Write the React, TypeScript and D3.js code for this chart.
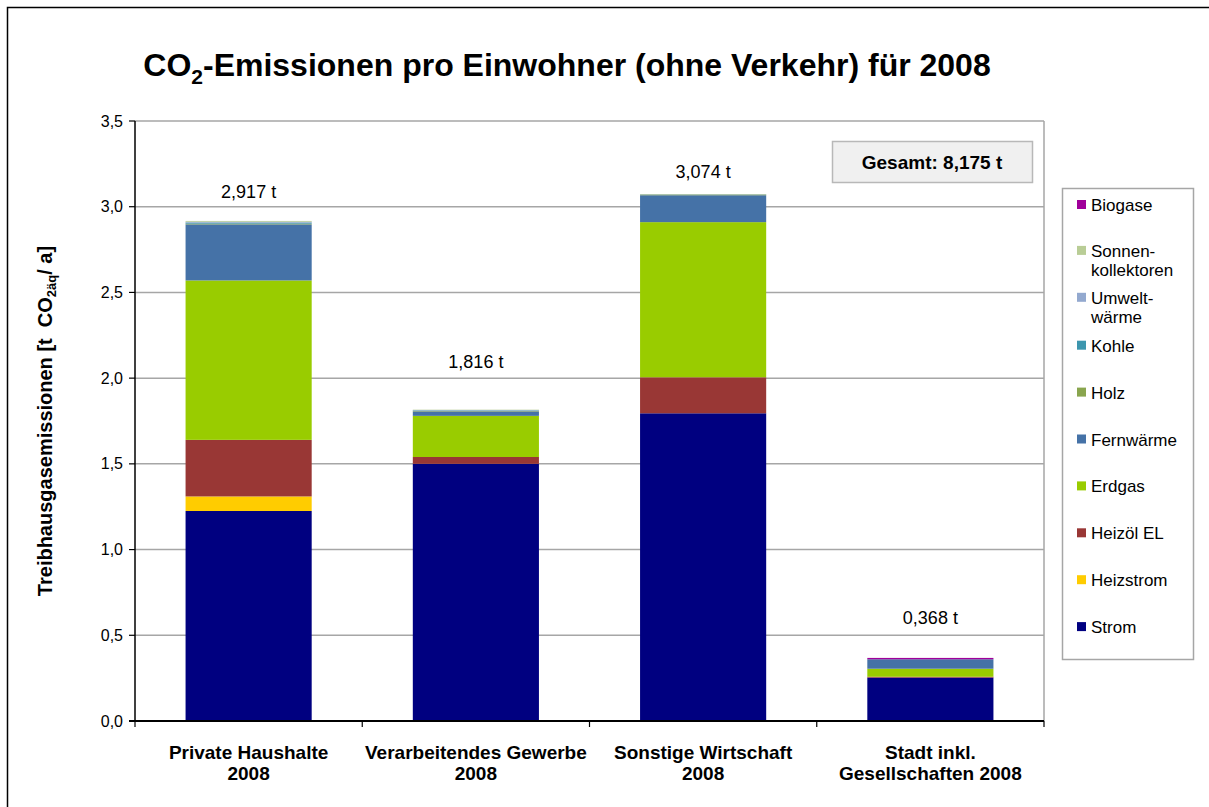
import React from "react";
import * as d3 from "d3";

const categories = [
  ["Private Haushalte", "2008"],
  ["Verarbeitendes Gewerbe", "2008"],
  ["Sonstige Wirtschaft", "2008"],
  ["Stadt inkl.", "Gesellschaften 2008"],
];
const seriesNames = [
  "Strom",
  "Heizstrom",
  "Heizöl EL",
  "Erdgas",
  "Fernwärme",
  "Holz",
  "Kohle",
  "Umweltwärme",
  "Sonnenkollektoren",
  "Biogase",
];
const legendLabels = [
  ["Biogase"],
  ["Sonnen-", "kollektoren"],
  ["Umwelt-", "wärme"],
  ["Kohle"],
  ["Holz"],
  ["Fernwärme"],
  ["Erdgas"],
  ["Heizöl EL"],
  ["Heizstrom"],
  ["Strom"],
];
const seriesColors = [
  "#000080",
  "#FFCC00",
  "#993735",
  "#99CC00",
  "#4572A7",
  "#89A54E",
  "#3D96AE",
  "#93A9CF",
  "#B9CD96",
  "#A0009A",
];
// values per series, per category
const strom = [1.225, 1.5, 1.795, 0.253];
const heizstrom = [0.085, 0, 0, 0];
const heizoel = [0.33, 0.04, 0.21, 0.005];
const erdgas = [0.93, 0.24, 0.905, 0.047];
const fernwaerme = [0.327, 0.026, 0.157, 0.055];
const holz = [0.004, 0.003, 0.004, 0];
const kohle = [0.006, 0.003, 0.001, 0];
const umweltwaerme = [0.005, 0.002, 0.001, 0];
const sonnenkollektoren = [0.005, 0.002, 0.001, 0];
const biogase = [0, 0, 0, 0.008];
const totalLabels = ["2,917 t", "1,816 t", "3,074 t", "0,368 t"];
const yTicks = [0, 0.5, 1, 1.5, 2, 2.5, 3, 3.5];
const gesamtLabel = "Gesamt: 8,175 t";

const seriesValues = [
  strom,
  heizstrom,
  heizoel,
  erdgas,
  fernwaerme,
  holz,
  kohle,
  umweltwaerme,
  sonnenkollektoren,
  biogase,
];

export default function App() {
  const W = 1209;
  const H = 807;
  const left = 135;
  const right = 1044;
  const top = 121;
  const bottom = 721;
  const font = "'Liberation Sans', Arial, sans-serif";

  const x = d3
    .scaleBand<number>()
    .domain(categories.map((_, i) => i))
    .range([left, right])
    .paddingInner(0.445)
    .paddingOuter(0.2225);
  const y = d3.scaleLinear().domain([0, 3.5]).range([bottom, top]);

  const rows = categories.map((_, i) => {
    const r: Record<string, number> = {};
    seriesNames.forEach((s, k) => (r[s] = seriesValues[k][i]));
    return r;
  });
  const stacked = d3.stack<Record<string, number>>().keys(seriesNames)(rows);
  const tops = categories.map((_, i) => y(stacked[stacked.length - 1][i][1]));
  const labelGap = [23, 42, 16, 34];

  const step = (right - left) / categories.length;

  return (
    <svg
      width={W}
      height={H}
      style={{ position: "absolute", left: 0, top: 0, fontFamily: font }}
    >
      <rect x={0} y={0} width={W} height={H} fill="#fff" />
      <rect x={7.5} y={7.5} width={W + 10} height={H + 10} fill="none" stroke="#000" strokeWidth={1.5} />
      <text x={567} y={76} textAnchor="middle" fontSize={32} fontWeight="bold" fill="#000">
        CO<tspan fontSize={21} dy={8}>2</tspan>
        <tspan dy={-8}>-Emissionen pro Einwohner (ohne Verkehr) für 2008</tspan>
      </text>

      {/* gridlines */}
      {yTicks.map((t) => (
        <line key={t} x1={left} x2={right} y1={y(t)} y2={y(t)} stroke="#a6a6a6" strokeWidth={1.5} />
      ))}
      <line x1={right} x2={right} y1={top} y2={bottom} stroke="#a6a6a6" strokeWidth={1.5} />

      {/* bars */}
      {stacked.map((layer, k) => (
        <g key={seriesNames[k]} fill={seriesColors[k]}>
          {layer.map((d, i) => {
            const h = y(d[0]) - y(d[1]);
            if (h <= 0) return null;
            return <rect key={i} x={x(i)!} y={y(d[1])} width={x.bandwidth()} height={h} />;
          })}
        </g>
      ))}

      {/* value labels */}
      {totalLabels.map((l, i) => (
        <text key={l} x={x(i)! + x.bandwidth() / 2} y={tops[i] - labelGap[i]} textAnchor="middle" fontSize={18} fill="#000">
          {l}
        </text>
      ))}

      {/* axes */}
      <line x1={left} x2={left} y1={top} y2={bottom} stroke="#000" strokeWidth={1.5} />
      <line x1={left - 6} x2={right} y1={bottom} y2={bottom} stroke="#000" strokeWidth={2} />
      {yTicks.map((t) => (
        <g key={t}>
          <line x1={left - 6} x2={left} y1={y(t)} y2={y(t)} stroke="#000" strokeWidth={1.2} />
          <text x={left - 12} y={y(t) + 5.5} textAnchor="end" fontSize={16} fill="#000">
            {d3.format(".1f")(t).replace(".", ",")}
          </text>
        </g>
      ))}
      {d3.range(categories.length + 1).map((i) => (
        <line key={i} x1={left + i * step} x2={left + i * step} y1={bottom} y2={bottom + 6} stroke="#000" strokeWidth={1.2} />
      ))}
      {categories.map((c, i) => (
        <text key={i} textAnchor="middle" fontSize={19} fontWeight="bold" fill="#000">
          {c.map((line, j) => (
            <tspan key={j} x={x(i)! + x.bandwidth() / 2} y={759 + j * 21}>
              {line}
            </tspan>
          ))}
        </text>
      ))}

      {/* y axis title */}
      <text
        transform={`translate(52, 421) rotate(-90)`}
        textAnchor="middle"
        fontSize={20}
        fontWeight="bold"
        fill="#000"
        style={{ whiteSpace: "pre" }}
      >
        {"Treibhausgasemissionen [t  CO"}
        <tspan fontSize={13} dy={4}>2äq</tspan>
        <tspan dy={-4}>{"/ a]"}</tspan>
      </text>

      {/* Gesamt box */}
      <rect x={832.5} y={141.5} width={200} height={41} fill="#f0f0f0" stroke="#b8b8b8" strokeWidth={1.5} />
      <text x={932} y={169} textAnchor="middle" fontSize={19} fontWeight="bold" fill="#000">
        {gesamtLabel}
      </text>

      {/* legend */}
      <rect x={1062.5} y={188.5} width={131} height={471} fill="#fff" stroke="#a6a6a6" strokeWidth={1.5} />
      {legendLabels.map((lines, i) => {
        const cy = 205 + i * 46.9;
        const color = seriesColors[seriesNames.length - 1 - i];
        const off = lines.length > 1 ? -1 : 0;
        return (
          <g key={i}>
            <rect x={1077} y={cy - 5 + off} width={9} height={9} fill={color} />
            <text fontSize={17} fill="#000">
              {lines.map((l, j) => (
                <tspan key={j} x={1091} y={cy + 6 + off + j * 19}>
                  {l}
                </tspan>
              ))}
            </text>
          </g>
        );
      })}
    </svg>
  );
}
